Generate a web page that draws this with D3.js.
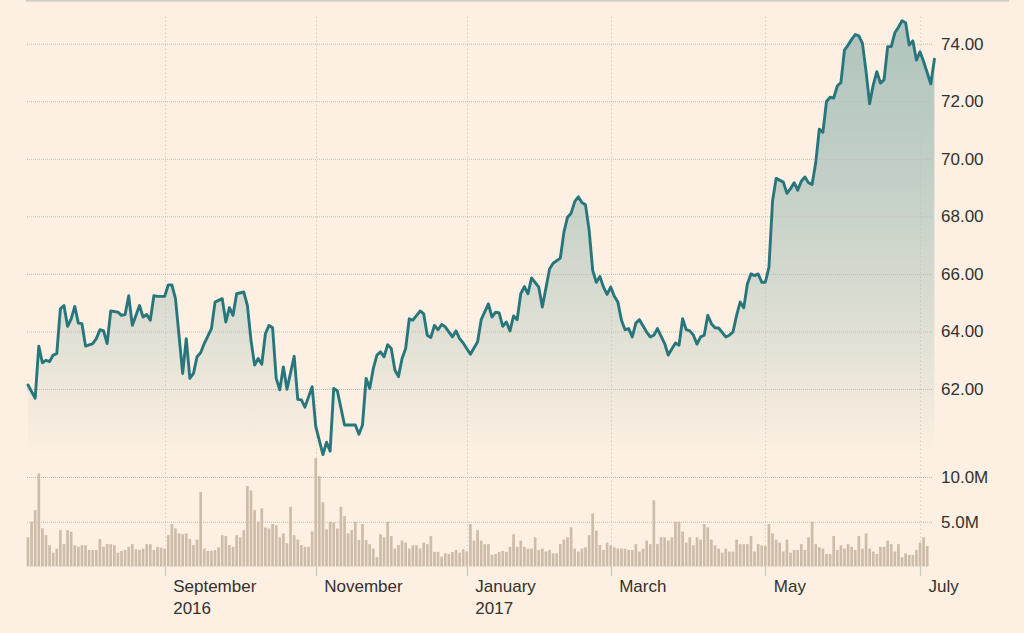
<!DOCTYPE html>
<html><head><meta charset="utf-8">
<script src="https://cdn.jsdelivr.net/npm/d3@7"></script>
<style>
html,body{margin:0;padding:0;background:#fdf0e2;}
svg{display:block;}
text{font-family:"Liberation Sans",Arial,Helvetica,sans-serif;fill:#33302e;}
</style></head><body>
<svg id="chart" width="1024" height="633"></svg>
<script>
// trading-day index of each price vertex
const priceDay = [0,2,3,4,5,6,7,8,9,10,11,12,13,14,15,16,18,19,20,21,22,23,25,26,27,28,29,31,32,33,34,35,36,38,39,40,41,43,44,45,46,47,48,49,51,52,54,55,56,57,58,60,61,62,63,64,65,66,67,68,69,70,71,72,74,75,76,77,79,80,82,83,84,85,86,88,91,92,93,94,95,96,97,98,99,100,101,102,103,104,105,106,107,109,110,111,112,113,114,115,116,118,119,120,121,123,125,126,128,129,130,131,132,133,134,135,136,137,138,139,140,142,143,145,146,148,149,150,151,152,153,154,155,156,157,158,159,160,161,162,163,164,165,166,167,168,169,170,172,173,174,175,177,178,180,181,182,183,184,185,186,187,188,189,190,191,192,194,195,196,197,198,199,200,201,202,203,204,205,206,207,208,210,211,212,213,214,215,216,217,218,219,220,221,222,223,224,225,226,227,228,229,230,231,232,233,234,235,236,237,238,239,240,241,242,243,244,245,246,247,248,249,251,252];
const priceClose = [62.14,61.68,63.49,62.91,63.0,62.95,63.18,63.23,64.79,64.9,64.18,64.44,64.87,64.29,64.27,63.49,63.58,63.75,64.06,64.02,63.58,64.71,64.67,64.56,64.59,65.24,64.21,64.9,64.5,64.59,64.39,65.24,65.22,65.22,65.62,65.62,65.14,62.54,63.75,62.37,62.54,63.12,63.26,63.58,64.1,65.02,65.14,64.33,64.83,64.56,65.31,65.37,64.9,63.69,62.83,63.06,62.86,63.92,64.21,64.13,62.37,61.97,62.77,61.99,63.14,61.64,61.62,61.37,62.08,60.70,59.72,60.15,59.84,62.02,61.94,60.75,60.75,60.43,60.75,62.37,62.02,62.71,63.18,63.29,63.12,63.54,63.41,62.66,62.43,63.06,63.41,64.44,64.39,64.71,64.62,63.87,63.79,64.21,64.06,64.24,64.16,63.81,64.02,63.75,63.6,63.21,63.64,64.41,64.96,64.5,64.67,64.64,64.18,64.33,64.02,64.54,64.41,65.31,65.56,65.31,65.86,65.54,64.85,66.17,66.37,66.55,67.45,67.97,68.11,68.51,68.68,68.48,68.4,67.53,66.12,65.71,65.91,65.54,65.29,65.54,65.22,65.02,64.39,64.06,64.1,63.81,64.29,64.41,63.98,63.81,63.87,64.1,63.58,63.18,63.6,63.52,64.44,64.06,64.02,63.87,63.56,63.81,63.87,64.56,64.27,64.13,64.12,63.81,63.87,63.98,64.56,65.02,64.82,65.65,66.0,65.94,66.0,65.71,65.71,66.23,68.53,69.32,69.19,68.8,68.96,69.17,68.91,69.22,69.37,69.17,69.11,69.86,71.03,70.92,71.99,72.14,72.11,72.53,72.65,73.78,73.95,74.15,74.32,74.27,74.01,73.03,71.91,72.57,73.03,72.63,72.74,73.9,73.9,74.38,74.57,74.8,74.73,73.95,74.1,73.43,73.72,73.38,72.6,73.46];
// daily volume in millions, one per trading day starting at day 0
const volumeM = [
3.26,5.0,6.3,10.4,4.26,3.5,2.37,1.55,2.0,4.07,
2.5,4.07,3.9,2.37,2.2,2.37,2.37,1.85,1.85,1.85,
3.07,2.2,2.5,2.5,2.37,1.55,1.74,1.85,2.2,2.5,
1.93,1.85,2.0,2.5,2.5,1.85,2.2,2.1,2.0,
3.5,4.74,4.26,3.7,3.6,3.7,3.07,2.4,3.0,8.33,
2.0,1.74,1.74,1.85,2.15,3.5,3.4,2.4,2.2,3.5,
3.26,4.07,9.0,8.5,6.3,5.0,6.5,4.37,4.26,4.74,
4.6,3.26,3.7,2.6,6.67,3.5,3.0,2.4,2.2,2.2,
3.9,
12.1,10.1,7.2,4.15,5.0,4.9,4.26,6.67,5.63,3.7,
4.07,5.0,2.96,4.74,2.96,2.5,2.0,1.04,3.6,3.26,
5.0,3.4,2.0,2.4,2.9,2.67,2.0,2.37,2.37,2.0,
2.67,2.5,3.4,1.63,1.63,1.1,1.48,1.4,1.63,1.85,
1.55,1.93,1.7,4.74,
2.9,4.07,2.9,2.5,2.5,1.3,1.4,1.63,1.74,1.63,
2.2,3.6,2.2,2.9,2.2,2.0,2.0,3.26,1.85,2.0,
1.67,1.85,1.48,1.48,2.5,3.0,3.26,4.37,2.0,1.67,
2.0,2.15,3.5,5.93,
4.0,2.4,1.85,2.67,2.37,2.15,2.0,2.0,2.0,1.85,
1.85,2.5,1.67,2.0,2.9,2.5,7.4,2.5,3.26,3.26,
2.9,3.26,5.0,5.0,
3.9,2.67,3.26,2.37,3.26,3.0,4.74,4.37,3.0,2.37,
2.0,1.55,2.0,1.67,1.67,3.0,2.5,2.5,2.5,3.4,
1.67,2.5,2.37,2.3,4.74,3.7,3.0,2.67,1.67,3.0,
1.55,1.85,1.85,2.5,1.85,3.26,5.0,2.5,2.15,2.0,
1.4,1.4,3.4,1.85,2.37,2.0,2.5,2.2,1.85,3.4,
2.0,3.7,2.0,1.67,1.4,2.2,2.2,2.9,2.5,1.67,
2.5,1.04,1.48,1.3,1.3,1.85,2.67,3.26,2.3];
const priceTicks = [62,64,66,68,70,72,74];
const volumeTicks = [5,10];
const monthTickDay = [38,80,122,162,205,248];
const monthTickLabel = [["September","2016"],["November"],["January","2017"],["March"],["May"],["July"]];

const W = 1024, H = 633;
const svg = d3.select("#chart");
const left = 26, gridRight = 932;

const x = d3.scaleLinear().domain([0,252]).range([28, 934.4]);
const yP = d3.scaleLinear().domain([62,74]).range([389,43.7]);
const yV = d3.scaleLinear().domain([0,10]).range([566.5,477]);
const areaFloor = 59.7;
const fontSize = "17px";

svg.append("rect").attr("width",W).attr("height",H).attr("fill","#fdf0e2");
svg.append("rect").attr("x",left).attr("y",0).attr("width",1009-left).attr("height",1.6).attr("fill","#d0cec5");

const defs = svg.append("defs");
const grad = defs.append("linearGradient").attr("id","fillGrad")
  .attr("gradientUnits","userSpaceOnUse").attr("x1",0).attr("x2",0)
  .attr("y1",yP(74.8)).attr("y2",yP(areaFloor));
[[0,0.37],[0.35,0.28],[0.6,0.19],[0.8,0.1],[1,0]].forEach(([o,a])=>{
  grad.append("stop").attr("offset",o).attr("stop-color","#2a7a7e").attr("stop-opacity",a);
});

const pts = priceDay.map((d,i)=>({d, v: priceClose[i]}));

svg.append("path").datum(pts)
  .attr("d", d3.area().x(p=>x(p.d)).y0(yP(areaFloor)).y1(p=>yP(p.v)))
  .attr("fill","url(#fillGrad)");

// horizontal grid + price labels
const pAxis = d3.axisRight(yP).tickValues(priceTicks).tickSize(-(gridRight-left)).tickPadding(9).tickFormat(d3.format(".2f"));
const gP = svg.append("g").attr("transform",`translate(${gridRight},0)`).call(pAxis);
const vAxis = d3.axisRight(yV).tickValues(volumeTicks).tickSize(-(gridRight-left)).tickPadding(9).tickFormat(d=>d.toFixed(1)+"M");
const gV = svg.append("g").attr("transform",`translate(${gridRight},0)`).call(vAxis);
[gP,gV].forEach(g=>{
  g.select(".domain").remove();
  g.selectAll(".tick line").attr("stroke","#bfbdb3").attr("stroke-dasharray","1,1");
  g.selectAll(".tick text").attr("font-size",fontSize).attr("fill","#33302e")
    .style("font-family","'Liberation Sans',Arial,sans-serif");
});

// vertical grid
const vg = svg.append("g");
vg.selectAll("line.g").data(monthTickDay).join("line").attr("class","g")
  .attr("x1",d=>Math.round(x(d))+0.5).attr("x2",d=>Math.round(x(d))+0.5)
  .attr("y1",16.7).attr("y2",yV(0))
  .attr("stroke","#bcc3bb").attr("stroke-dasharray","1,3");
vg.selectAll("line.t").data(monthTickDay).join("line").attr("class","t")
  .attr("x1",d=>Math.round(x(d))+0.5).attr("x2",d=>Math.round(x(d))+0.5)
  .attr("y1",yV(0)).attr("y2",576)
  .attr("stroke","#c3c9c4").attr("stroke-width",1.2);

// volume bars
const bw = 2.7;
svg.append("g").selectAll("rect").data(volumeM).join("rect")
  .attr("x",(v,i)=>x(i)-bw/2).attr("width",bw)
  .attr("y",v=>yV(v)).attr("height",v=>yV(0)-yV(v))
  .attr("fill","#cdbcaa");

// price line
svg.append("path").datum(pts)
  .attr("d", d3.line().x(p=>x(p.d)).y(p=>yP(p.v)))
  .attr("fill","none").attr("stroke","#27767c").attr("stroke-width",2.9)
  .attr("stroke-linejoin","round").attr("stroke-linecap","round");

// x labels
const xl = svg.append("g");
monthTickDay.forEach((d,i)=>{
  const t = xl.append("text").attr("x",x(d)+8.5).attr("y",591.7).attr("font-size",fontSize);
  monthTickLabel[i].forEach((s,j)=>{
    t.append("tspan").attr("x",x(d)+8.5).attr("y",591.7+j*22.5).text(s);
  });
});
</script>
</body></html>
